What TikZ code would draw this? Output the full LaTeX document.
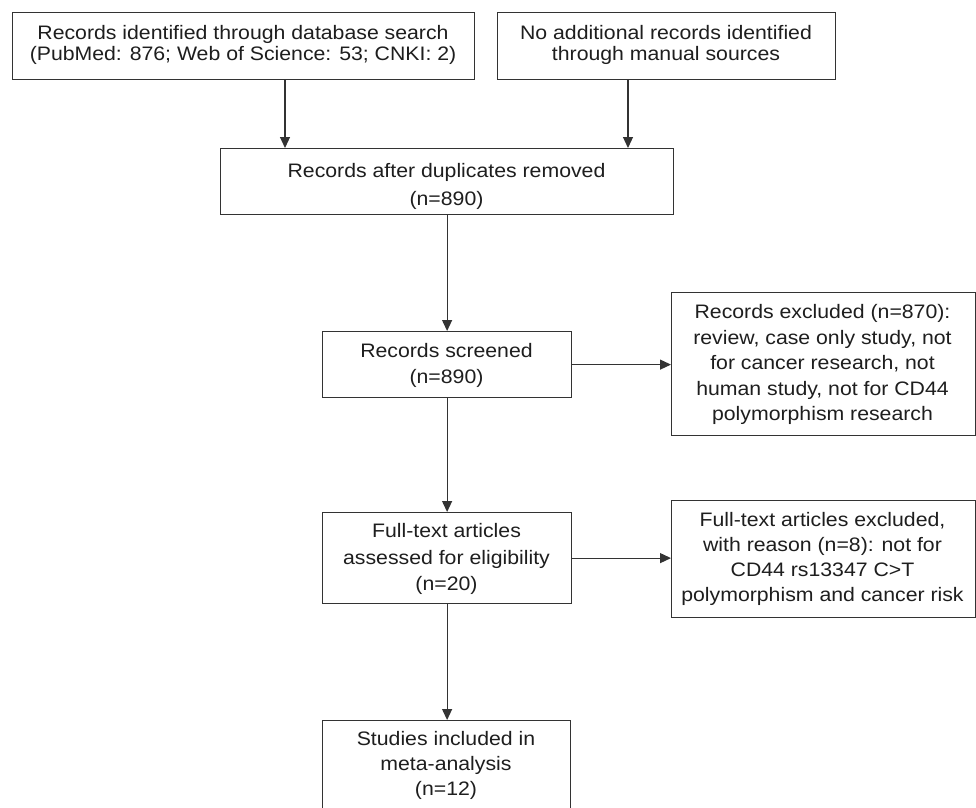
\documentclass[tikz,border=0pt]{standalone}
\usepackage{fontspec}
\setmainfont{Liberation Sans}[FakeStretch=1.09]
\usetikzlibrary{arrows.meta}
\definecolor{linec}{HTML}{333333}
\definecolor{textc}{HTML}{1E1E1E}
\tikzset{
  box/.style={draw=linec, line width=1.2pt, inner sep=0pt, anchor=north west},
  txt/.style={text=textc, align=center, inner sep=0pt},
  arr/.style={draw=linec, line width=1.2pt, -{Triangle[length=11pt,width=10pt]}}
}
\newcommand{\fs}[1]{\fontsize{19.5}{#1}\selectfont}
\begin{document}
\begin{tikzpicture}[x=1pt,y=-1pt]
\clip (0,0) rectangle (976,807);
\fill[white] (0,0) rectangle (976,807);
% boxes
\node[box, minimum width=462pt, minimum height=67pt] (b1) at (12,12) {};
\node[box, minimum width=338pt, minimum height=67pt] (b2) at (497,12) {};
\node[box, minimum width=453pt, minimum height=66pt] (b3) at (220,148) {};
\node[box, minimum width=249pt, minimum height=66pt] (b4) at (322,331) {};
\node[box, minimum width=303.5pt, minimum height=143pt] (b5) at (671,292) {};
\node[box, minimum width=249pt, minimum height=91pt] (b6) at (322,512) {};
\node[box, minimum width=303.5pt, minimum height=117pt] (b7) at (671,500) {};
\node[box, minimum width=248pt, minimum height=120pt] (b8) at (322,720) {};
% texts
\node[txt, font=\fs{20.5}] (t1) at (243,45) {Records identified through database search\\(PubMed: 876; Web of Science: 53; CNKI: 2)};
\node[txt, font=\fs{20.5}] (t2) at (666,45) {No additional records identified\\through manual sources};
\node[txt, font=\fs{28}] (t3) at (446.5,186.5) {Records after duplicates removed\\(n=890)};
\node[txt, font=\fs{26}] (t4) at (446.5,365) {Records screened\\(n=890)};
\node[txt, font=\fs{25.5}] (t5) at (822.5,364.5) {Records excluded (n=870):\\review, case only study, not\\for cancer research, not\\human study, not for CD44\\polymorphism research};
\node[txt, font=\fs{26.5}] (t6) at (446.5,559) {Full-text articles\\assessed for eligibility\\(n=20)};
\node[txt, font=\fs{25}] (t7) at (822.5,559) {Full-text articles excluded,\\with reason (n=8): not for\\CD44 rs13347 C>T\\polymorphism and cancer risk};
\node[txt, font=\fs{25}] (t8) at (446,765) {Studies included in\\meta-analysis\\(n=12)};
% connectors
\draw[arr] ([xshift=273pt]b1.south west) -- ([xshift=273pt]b1.south west |- b3.north);
\draw[arr] ([xshift=131pt]b2.south west) -- ([xshift=131pt]b2.south west |- b3.north);
\draw[arr] (b3.south) -- (b4.north);
\draw[arr] (b4.east) -- (b4.east -| b5.west);
\draw[arr] (b4.south) -- (b6.north);
\draw[arr] (b6.east) -- (b6.east -| b7.west);
\draw[arr] (b6.south) -- (b6.south |- b8.north);
\end{tikzpicture}
\end{document}
